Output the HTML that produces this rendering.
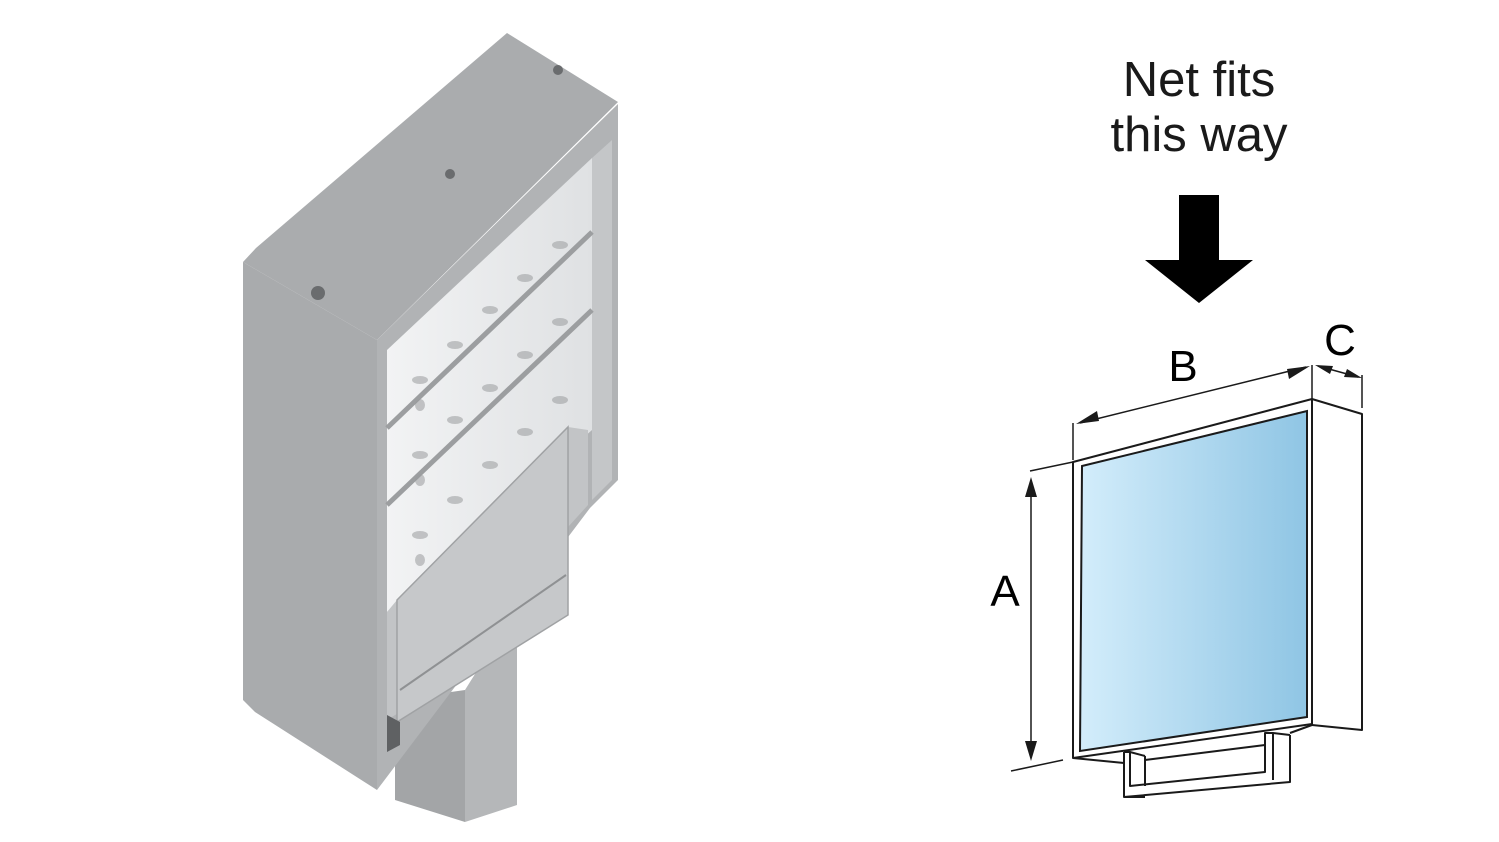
<!DOCTYPE html>
<html><head><meta charset="utf-8"><style>
html,body{margin:0;padding:0;background:#fff;}
svg{display:block}
text{font-family:"Liberation Sans",sans-serif;}
</style></head><body>
<svg width="1499" height="842" viewBox="0 0 1499 842" xmlns="http://www.w3.org/2000/svg">
<defs>
<linearGradient id="glass" x1="0" x2="1" y1="0" y2="0">
<stop offset="0" stop-color="#d3edfb"/><stop offset="1" stop-color="#8fc5e4"/>
</linearGradient>
<linearGradient id="led" x1="0" x2="1" y1="0" y2="0">
<stop offset="0" stop-color="#f2f3f4"/><stop offset="1" stop-color="#dfe1e3"/>
</linearGradient>
</defs>
<!-- stem -->
<polygon points="395,700 465,690 465,822 395,800" fill="#a3a5a7"/>
<polygon points="465,690 517,607 517,805 465,822" fill="#b5b7b9"/>
<!-- housing -->
<polygon points="243,262 377,340 377,790 255,712 243,700" fill="#a9abad"/>
<polygon points="243,262 256,248 507,33 618,102 377,340" fill="#aaacae"/>
<polygon points="377,340 618,104 618,480 590,508 377,790" fill="#b1b3b5"/>
<polygon points="387,350 592,158 592,430 387,612" fill="url(#led)"/>
<polygon points="592,158 612,140 612,480 592,500" fill="#c4c6c8"/>
<g stroke="#9c9ea0" stroke-width="5">
<line x1="387" y1="428" x2="592" y2="232"/>
<line x1="387" y1="505" x2="592" y2="310"/>
</g>
<g fill="#9a9c9e" opacity="0.55">
<ellipse cx="420" cy="380" rx="8" ry="4"/><ellipse cx="455" cy="345" rx="8" ry="4"/><ellipse cx="490" cy="310" rx="8" ry="4"/><ellipse cx="525" cy="278" rx="8" ry="4"/><ellipse cx="560" cy="245" rx="8" ry="4"/>
<ellipse cx="420" cy="455" rx="8" ry="4"/><ellipse cx="455" cy="420" rx="8" ry="4"/><ellipse cx="490" cy="388" rx="8" ry="4"/><ellipse cx="525" cy="355" rx="8" ry="4"/><ellipse cx="560" cy="322" rx="8" ry="4"/>
<ellipse cx="420" cy="535" rx="8" ry="4"/><ellipse cx="455" cy="500" rx="8" ry="4"/><ellipse cx="490" cy="465" rx="8" ry="4"/><ellipse cx="525" cy="432" rx="8" ry="4"/><ellipse cx="560" cy="400" rx="8" ry="4"/>
<ellipse cx="420" cy="405" rx="5" ry="6"/><ellipse cx="420" cy="480" rx="5" ry="6"/><ellipse cx="420" cy="560" rx="5" ry="6"/>
</g>
<!-- drawer -->
<polygon points="387,612 397,600 568,427 588,430 588,505 400,712 387,720" fill="#c2c4c6"/>
<polygon points="397,600 568,427 568,615 397,722" fill="#c6c8ca" stroke="#a0a2a4" stroke-width="1.5"/>
<line x1="400" y1="690" x2="566" y2="575" stroke="#8f9193" stroke-width="2"/>
<polygon points="387,715 400,722 400,745 387,752" fill="#5f6163"/>
<circle cx="318" cy="293" r="7" fill="#6a6c6e"/><circle cx="450" cy="174" r="5" fill="#6a6c6e"/><circle cx="558" cy="70" r="5" fill="#6a6c6e"/>
<!-- text -->
<text x="1199" y="96" font-size="49" text-anchor="middle" fill="#1a1a1a">Net fits</text>
<text x="1199" y="151" font-size="49" text-anchor="middle" fill="#1a1a1a">this way</text>
<polygon points="1179,195 1219,195 1219,260 1253,260 1199,303 1145,260 1179,260" fill="#000"/>
<!-- box diagram -->
<g fill="none" stroke="#1a1a1a" stroke-width="2" stroke-linejoin="round">
<polygon points="1073,462 1312,399 1312,724 1073,758"/>
<polyline points="1312,399 1362,414 1362,730 1312,725"/>
<line x1="1073" y1="758" x2="1124" y2="763"/>
<line x1="1290" y1="733" x2="1312" y2="725"/>
<polyline points="1124,752 1124,797 1290,782 1290,735"/>
<polyline points="1124,752 1130,752 1130,786 1265,772 1265,733 1273,733 1290,735"/>
<line x1="1130" y1="752" x2="1145" y2="756"/>
<line x1="1145" y1="756" x2="1145" y2="786"/>
<line x1="1145" y1="760" x2="1265" y2="745"/>
<line x1="1273" y1="733" x2="1273" y2="780"/>
<line x1="1124" y1="797" x2="1145" y2="797"/>
</g>
<polygon points="1082,466 1307,411 1307,717 1080,751" fill="url(#glass)" stroke="#1a1a1a" stroke-width="2"/>
<g stroke="#1a1a1a" stroke-width="1.5" fill="none">
<line x1="1073" y1="460" x2="1073" y2="423"/>
<line x1="1312" y1="399" x2="1312" y2="365"/>
<line x1="1362" y1="408" x2="1362" y2="375"/>
<line x1="1080" y1="423" x2="1306" y2="367"/>
<line x1="1318" y1="366" x2="1358" y2="377"/>
<line x1="1030" y1="471" x2="1073" y2="462"/>
<line x1="1011" y1="771" x2="1063" y2="760"/>
<line x1="1031" y1="485" x2="1031" y2="752"/>
</g>
<g fill="#1a1a1a">
<polygon points="1076,424 1097,411 1099,421"/>
<polygon points="1310,366 1289,379 1287,369"/>
<polygon points="1315,365 1333,366 1330,374"/>
<polygon points="1362,378 1344,377 1347,369"/>
<polygon points="1031,477 1025,497 1037,497"/>
<polygon points="1031,761 1025,741 1037,741"/>
</g>
<text x="1183" y="381" font-size="44" text-anchor="middle" fill="#000">B</text>
<text x="1340" y="355" font-size="44" text-anchor="middle" fill="#000">C</text>
<text x="1005" y="606" font-size="44" text-anchor="middle" fill="#000">A</text>
</svg>
</body></html>
